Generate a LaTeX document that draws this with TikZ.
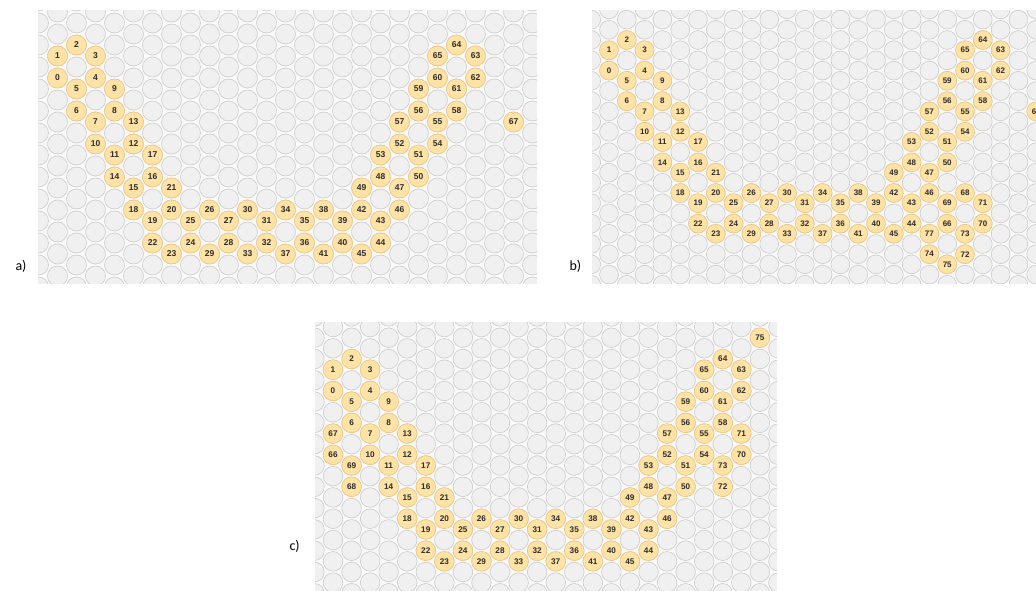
\documentclass[tikz,border=0pt]{standalone}
\usepackage{fontspec}
\setmainfont{Liberation Sans}
\newfontfamily\tagfont{Carlito}
\usepackage{tikz}
\usepackage{xcolor}

\definecolor{cellfill}{RGB}{254,226,166}
\definecolor{celledge}{RGB}{242,198,122}
\definecolor{celltext}{RGB}{45,45,45}
\definecolor{slotfill}{RGB}{240,240,240}
\definecolor{slotedge}{RGB}{200,200,200}
\definecolor{panelbg}{RGB}{249,249,249}

\tikzset{
  slot/.style={draw=slotedge, fill=slotfill, line width=0.55pt},
  cell/.style={circle, draw=celledge, fill=cellfill, line width=0.6pt, inner sep=0pt,
    minimum size=#1, text=celltext, font=\bfseries\fontsize{8.5}{9}\selectfont},
  tag/.style={font=\tagfont\fontsize{14}{16}\selectfont, anchor=west}
}

\begin{document}
\begin{tikzpicture}[x=1pt, y=-1pt]
  \useasboundingbox (0,0) rectangle (1036,590);

  % panel a
  \begin{scope}
    \clip (38,10) rectangle (537,283);
    \fill[panelbg] (38,10) rectangle (537,283);
    \begin{scope}[shift={(57.5pt,-45pt)}, x=19pt, y=-11pt]
      \foreach \c in {-1,...,26}
        \foreach \k in {-2,...,12}
          \draw[slot] (\c,{2*\k+mod(\c+1,2)}) circle[radius=10pt];
      \foreach \n/\c/\h in {0/0/3, 1/0/1, 2/1/0, 3/2/1, 4/2/3, 5/1/4, 6/1/6, 7/2/7, 8/3/6, 9/3/4,
          10/2/9, 11/3/10, 12/4/9, 13/4/7, 14/3/12, 15/4/13, 16/5/12, 17/5/10, 18/4/15, 19/5/16,
          20/6/15, 21/6/13, 22/5/18, 23/6/19, 24/7/18, 25/7/16, 26/8/15, 27/9/16, 28/9/18, 29/8/19,
          30/10/15, 31/11/16, 32/11/18, 33/10/19, 34/12/15, 35/13/16, 36/13/18, 37/12/19, 38/14/15,
          39/15/16, 40/15/18, 41/14/19, 42/16/15, 43/17/16, 44/17/18, 45/16/19, 46/18/15, 47/18/13,
          48/17/12, 49/16/13, 50/19/12, 51/19/10, 52/18/9, 53/17/10, 54/20/9, 55/20/7, 56/19/6,
          57/18/7, 58/21/6, 59/19/4, 60/20/3, 61/21/4, 62/22/3, 63/22/1, 64/21/0, 65/20/1, 67/24/7}
        \node[cell=20pt] (a\n) at (\c,\h) {\n};
    \end{scope}
  \end{scope}
  \node[tag] (taga) at (12,266) {a)};

  % panel b
  \begin{scope}
    \clip (592,10) rectangle (1040,283);
    \fill[panelbg] (592,10) rectangle (1040,283);
    \begin{scope}[shift={(609pt,-40pt)}, x=17.8pt, y=-10.2pt,
        cell/.append style={font=\bfseries\fontsize{8}{8}\selectfont}]
      \foreach \c in {-1,...,25}
        \foreach \k in {-2,...,12}
          \draw[slot] (\c,{2*\k+mod(\c+1,2)}) circle[radius=9.4pt];
      \foreach \n/\c/\h in {0/0/3, 1/0/1, 2/1/0, 3/2/1, 4/2/3, 5/1/4, 6/1/6, 7/2/7, 8/3/6, 9/3/4,
          10/2/9, 11/3/10, 12/4/9, 13/4/7, 14/3/12, 15/4/13, 16/5/12, 17/5/10, 18/4/15, 19/5/16,
          20/6/15, 21/6/13, 22/5/18, 23/6/19, 24/7/18, 25/7/16, 26/8/15, 27/9/16, 28/9/18, 29/8/19,
          30/10/15, 31/11/16, 32/11/18, 33/10/19, 34/12/15, 35/13/16, 36/13/18, 37/12/19, 38/14/15,
          39/15/16, 40/15/18, 41/14/19, 42/16/15, 43/17/16, 44/17/18, 45/16/19, 46/18/15, 47/18/13,
          48/17/12, 49/16/13, 50/19/12, 51/19/10, 52/18/9, 53/17/10, 54/20/9, 55/20/7, 56/19/6,
          57/18/7, 58/21/6, 59/19/4, 60/20/3, 61/21/4, 62/22/3, 63/22/1, 64/21/0, 65/20/1, 66/19/18,
          67/24/7, 68/20/15, 69/19/16, 70/21/18, 71/21/16, 72/20/21, 73/20/19, 74/18/21, 75/19/22,
          77/18/19}
        \node[cell=18.8pt] (b\n) at (\c,\h) {\n};
    \end{scope}
  \end{scope}
  \node[tag] (tagb) at (566,266) {b)};

  % panel c
  \begin{scope}
    \clip (315,322) rectangle (777,592);
    \fill[panelbg] (315,322) rectangle (777,592);
    \begin{scope}[shift={(333pt,-359pt)}, x=18.56pt, y=-10.65pt,
        cell/.append style={font=\bfseries\fontsize{8.2}{8}\selectfont}]
      \foreach \c in {-1,...,25}
        \foreach \k in {-3,...,12}
          \draw[slot] (\c,{2*\k+mod(\c+1,2)}) circle[radius=9.8pt];
      \foreach \n/\c/\h in {0/0/3, 1/0/1, 2/1/0, 3/2/1, 4/2/3, 5/1/4, 6/1/6, 7/2/7, 8/3/6, 9/3/4,
          10/2/9, 11/3/10, 12/4/9, 13/4/7, 14/3/12, 15/4/13, 16/5/12, 17/5/10, 18/4/15, 19/5/16,
          20/6/15, 21/6/13, 22/5/18, 23/6/19, 24/7/18, 25/7/16, 26/8/15, 27/9/16, 28/9/18, 29/8/19,
          30/10/15, 31/11/16, 32/11/18, 33/10/19, 34/12/15, 35/13/16, 36/13/18, 37/12/19, 38/14/15,
          39/15/16, 40/15/18, 41/14/19, 42/16/15, 43/17/16, 44/17/18, 45/16/19, 46/18/15, 47/18/13,
          48/17/12, 49/16/13, 50/19/12, 51/19/10, 52/18/9, 53/17/10, 54/20/9, 55/20/7, 56/19/6,
          57/18/7, 58/21/6, 59/19/4, 60/20/3, 61/21/4, 62/22/3, 63/22/1, 64/21/0, 65/20/1, 66/0/9,
          67/0/7, 68/1/12, 69/1/10, 70/22/9, 71/22/7, 72/21/12, 73/21/10, 75/23/-2}
        \node[cell=19.6pt] (c\n) at (\c,\h) {\n};
    \end{scope}
  \end{scope}
  \node[tag] (tagc) at (286,546) {c)};
\end{tikzpicture}
\end{document}
